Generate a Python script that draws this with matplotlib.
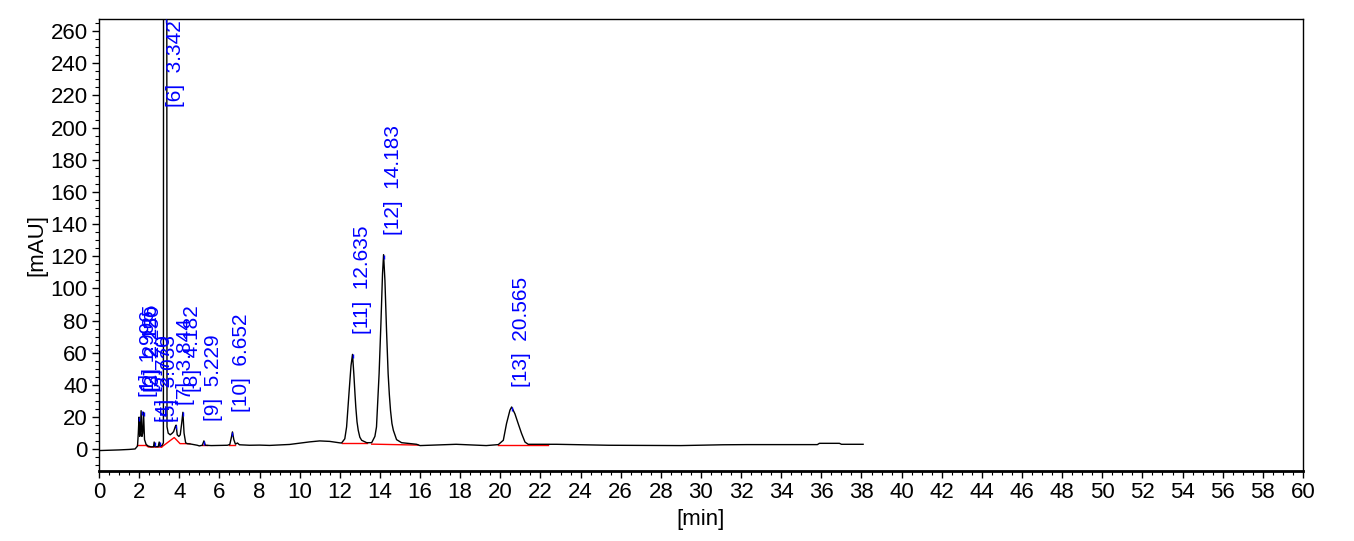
import numpy as np
import matplotlib.pyplot as plt
from matplotlib.ticker import MultipleLocator
plt.switch_backend('Agg')

plt.rcParams['font.family'] = ['Liberation Sans', 'DejaVu Sans']

# chromatogram trace: time [min], signal [mAU]
trace_t = [0.0, 0.5, 1.0, 1.5, 1.8, 1.92, 1.96, 1.996, 2.03, 2.06, 2.10, 2.14, 2.18, 2.22,
           2.27, 2.35, 2.45, 2.6, 2.72, 2.75, 2.79, 2.95, 3.0, 3.04, 3.15, 3.21, 3.22, 3.34,
           3.375, 3.39, 3.45, 3.55, 3.65, 3.72, 3.80, 3.844, 3.90, 3.98, 4.05, 4.12, 4.182,
           4.24, 4.32, 4.4, 4.6, 4.9, 5.0, 5.15, 5.229, 5.3, 5.6, 6.0, 6.4, 6.52, 6.6, 6.652,
           6.72, 6.8, 6.9, 7.0, 7.5, 8.0, 8.5, 9.0, 9.5, 10.0, 10.5, 11.0, 11.5, 12.0, 12.09,
           12.25, 12.34, 12.47, 12.56, 12.635, 12.70, 12.76, 12.80, 12.86, 12.92, 13.0, 13.09,
           13.34, 13.59, 13.75, 13.83, 13.96, 14.05, 14.13, 14.183, 14.25, 14.33, 14.41, 14.47,
           14.53, 14.60, 14.67, 14.83, 15.08, 15.83, 16.0,
           17.8, 19.3, 19.9, 20.15, 20.31, 20.48, 20.565, 20.73, 20.89, 21.06, 21.23, 21.39,
           22.8, 25.4, 29.0, 31.1, 32.3, 35.8, 35.9, 36.9, 37.0, 38.08]
trace_v = [-0.8, -0.6, -0.4, -0.1, 0.2, 2.0, 10, 20, 8, 10, 24, 8, 10, 23,
           6, 3, 2.0, 1.5, 1.6, 4.5, 1.6, 1.6, 4.5, 1.8, 2.5, 4, 400, 1000,
           400, 14, 10, 9, 10, 11, 14, 15, 9, 8, 9, 16, 23,
           10, 4, 3.5, 3.2, 2.5, 2.1, 2.5, 5.2, 2.5, 2.3, 2.4, 2.5, 3, 7.5, 10.8,
           6, 3.2, 3.9, 2.8, 2.5, 2.6, 2.4, 2.7, 3.0, 3.8, 4.6, 5.2, 4.9, 4.0, 3.9,
           6.5, 13.9, 36.7, 52, 59, 47, 34, 26, 17, 11.8, 7.5, 5.6,
           4.1, 4.1, 8.0, 13.9, 47, 78, 109, 121, 105, 74, 47, 34,
           24, 16, 11.8, 6, 4.1, 3.1, 2.3,
           3.1, 2.3, 2.9, 5.6, 16, 24.3, 26.3, 22, 16, 9.8, 4.5, 3.1,
           3.1, 2.5, 2.3, 2.8, 2.9, 2.9, 3.7, 3.7, 3.1, 3.1]

# integration baselines (red)
base_segments = [
    ([1.90, 2.35], [2.5, 2.5]),
    ([2.35, 2.46, 2.71, 3.12], [2.5, 1.4, 1.4, 1.4]),
    ([3.12, 3.75, 4.04, 4.53], [1.4, 7.3, 3.5, 3.5]),
    ([5.11, 5.36], [2.9, 2.9]),
    ([6.49, 6.78], [2.9, 2.9]),
    ([12.09, 13.34], [3.7, 3.7]),
    ([13.59, 15.91], [3.2, 2.6]),
    ([19.9, 22.4], [2.5, 2.5]),
]

# peaks: number, retention time, apex height
peak_no = [1, 2, 3, 4, 5, 6, 7, 8, 9, 10, 11, 12, 13]
peak_rt = [1.996, 2.125, 2.250, 2.770, 3.033, 3.342, 3.844, 4.182, 5.229, 6.652,
           12.635, 14.183, 20.565]
peak_h = [20, 24, 23, 4.5, 4.5, 1000, 15, 23, 5.2, 10.8, 59, 121, 26.3]

fig = plt.figure(figsize=(13.54, 5.41), dpi=100)
ax = fig.add_axes([0.0731, 0.1294, 0.8892, 0.8355])

ax.plot(trace_t, trace_v, color='black', lw=1.0, zorder=3)
for bt, bv in base_segments:
    ax.plot(bt, bv, color='red', lw=1.0, zorder=2)

ymax = 267.5
for n, rt, h in zip(peak_no, peak_rt, peak_h):
    top = min(h, ymax)
    ax.vlines(rt, top - 2.5, top, color='blue', lw=1.0, zorder=4)
    ly = min(h + 12.5, 212.5)
    ax.text(rt, ly, f"[{n}]  {rt:.3f}", rotation=90, ha='left', va='bottom',
            color='blue', fontsize=15, clip_on=True, zorder=5)

ax.set_xlim(0, 60)
ax.set_ylim(-13.5, ymax)
ax.xaxis.set_major_locator(MultipleLocator(2))
ax.xaxis.set_minor_locator(MultipleLocator(0.5))
ax.set_yticks(np.arange(0, 261, 20))
ax.yaxis.set_minor_locator(MultipleLocator(5))
ax.tick_params(which='major', length=5, width=1, labelsize=16, direction='out')
ax.tick_params(which='minor', length=3, width=0.8, direction='out')
ax.tick_params(axis='x', pad=3)
ax.tick_params(axis='y', pad=3)

for s in ax.spines.values():
    s.set_linewidth(1.0)
ax.spines['bottom'].set_linewidth(2.0)

ax.set_xlabel('[min]', fontsize=16, labelpad=4)
ax.set_ylabel('[mAU]', fontsize=16, labelpad=2)

plt.savefig('out.png', dpi=100)
plt.close()
